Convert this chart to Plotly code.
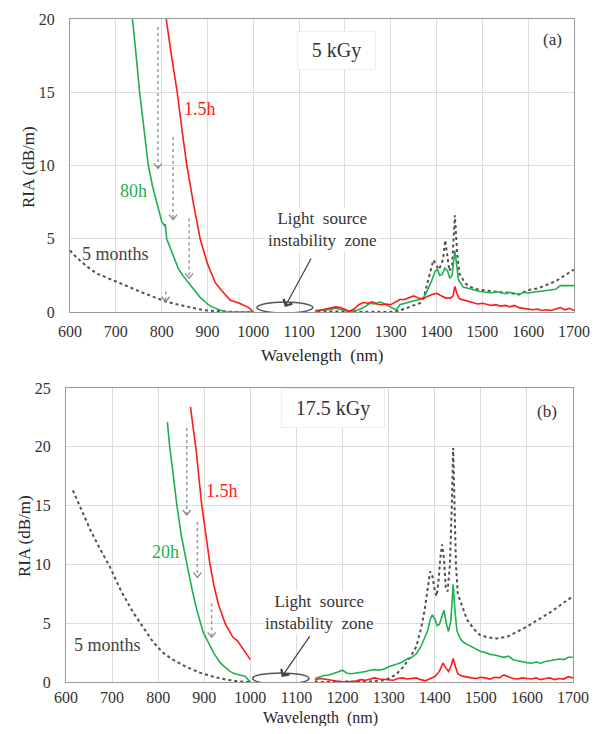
import plotly.graph_objects as go

# ---------------- Panel (a) : 5 kGy ----------------
a_red_x = [805, 810, 820, 834, 845, 855, 870, 884, 900, 917, 930, 950, 970, 990, 1000, None,
           1135, 1150, 1165, 1180, 1190, 1200, 1210, 1220, 1230, 1240, 1250, 1260, 1270, 1280, 1290,
           1300, 1310, 1320, 1330, 1340, 1350, 1360, 1370, 1380, 1390, 1400, 1410, 1420, 1430, 1436,
           1440, 1445, 1450, 1460, 1470, 1480, 1490, 1500, 1510, 1520, 1530, 1540, 1550, 1560, 1570,
           1580, 1590, 1600, 1610, 1620, 1630, 1640, 1650, 1660, 1670, 1680, 1690, 1700]
a_red_y = [22, 20, 17.8, 15, 12.3, 10, 7.3, 5, 3.3, 2, 1.5, 0.8, 0.6, 0.3, 0.0, None,
           0.05, 0.15, 0.25, 0.35, 0.3, 0.15, 0.05, 0.2, 0.5, 0.65, 0.6, 0.7, 0.55, 0.5, 0.55,
           0.5, 0.7, 0.85, 0.85, 1.0, 1.1, 0.95, 0.9, 1.05, 1.2, 1.27, 1.1, 0.95, 0.95, 1.1,
           1.75, 1.2, 0.9, 0.8, 0.75, 0.6, 0.55, 0.6, 0.5, 0.45, 0.5, 0.4, 0.45, 0.35, 0.45,
           0.3, 0.25, 0.2, 0.15, 0.2, 0.1, 0.15, 0.1, 0.2, 0.3, 0.15, 0.25, 0.1]

a_green_x = [730, 737, 745, 752, 760, 771, 780, 790, 800, 806, 808, 811, 820, 830, 836, 846, 858,
             870, 884, 895, 902, 910, 920, 930, 940, 960, 980, 1000, None,
             1135, 1150, 1165, 1180, 1190, 1200, 1210, 1220, 1230, 1240, 1255, 1265, 1277, 1290,
             1298, 1312, 1320, 1330, 1342, 1355, 1364, 1372, 1378, 1389, 1397, 1402, 1407, 1413,
             1418, 1424, 1429, 1434, 1440, 1444, 1448, 1458, 1470, 1480, 1495, 1510, 1520, 1530,
             1540, 1550, 1560, 1570, 1580, 1590, 1600, 1610, 1620, 1630, 1640, 1650, 1660, 1670,
             1680, 1690, 1700]
a_green_y = [22, 20, 17.3, 15, 12.8, 10, 8.6, 7.3, 6.2, 5.9, 6.0, 5.0, 4.3, 3.5, 3.0, 2.5, 2.0,
             1.5, 1.0, 0.7, 0.5, 0.35, 0.2, 0.1, 0.02, 0.0, 0.0, 0.0, None,
             0.1, 0.1, 0.15, 0.25, 0.2, 0.1, 0.0, 0.05, 0.15, 0.3, 0.6, 0.55, 0.7, 0.5,
             0.36, 0.14, 0.5, 0.6, 0.7, 0.8, 0.85, 1.0, 1.36, 2.1, 2.8, 2.9, 2.5, 2.6,
             3.0, 2.8, 2.3, 2.5, 4.2, 3.0, 2.2, 1.7, 1.6, 1.55, 1.4, 1.35, 1.3, 1.4,
             1.3, 1.25, 1.35, 1.3, 1.2, 1.35, 1.3, 1.35, 1.4, 1.45, 1.45, 1.5, 1.55, 1.8,
             1.8, 1.75, 1.8]

a_old_x = [600, 615, 637, 660, 680, 702, 730, 760, 785, 811, 830, 855, 880, 899, 930, 960, 1000, None,
           1140, 1200, 1250, 1300, 1320, 1335, 1350, 1364, 1372, 1378, 1386, 1393, 1398, 1404, 1410,
           1414, 1419, 1424, 1428, 1434, 1440, 1445, 1450, 1458, 1465, 1475, 1488, 1500, 1520, 1540,
           1560, 1580, 1590, 1600, 1620, 1640, 1660, 1680, 1700]
a_old_y = [4.2, 3.7, 3.1, 2.6, 2.35, 2.05, 1.7, 1.3, 1.0, 0.7, 0.55, 0.35, 0.2, 0.1, 0.03, 0.0, 0.0, None,
           0.05, 0.05, 0.0, 0.0, 0.1, 0.25, 0.45, 0.6, 1.0, 1.7, 2.6, 3.55, 3.3, 2.9, 3.2,
           3.6, 4.9, 3.8, 2.8, 3.2, 6.6, 4.0, 2.6, 2.2, 1.9, 1.7, 1.55, 1.5, 1.4, 1.35,
           1.3, 1.2, 1.35, 1.5, 1.6, 1.85, 2.1, 2.5, 2.9]

# ---------------- Panel (b) : 17.5 kGy ----------------
b_red_x = [870, 875, 883, 894, 903, 912, 921, 930, 945, 955, 962, 972, 981, 990, 1000, None,
           1140, 1150, 1160, 1170, 1180, 1190, 1200, 1210, 1220, 1230, 1240, 1250, 1260, 1270, 1280,
           1290, 1300, 1310, 1320, 1330, 1340, 1350, 1360, 1370, 1380, 1390, 1400, 1410, 1418, 1424,
           1430, 1436, 1440, 1445, 1450, 1460, 1470, 1480, 1490, 1500, 1510, 1520, 1530, 1540, 1550,
           1560, 1570, 1580, 1590, 1600, 1610, 1620, 1630, 1640, 1650, 1660, 1670, 1680, 1690, 1700]
b_red_y = [23.4, 22.0, 19.5, 15.2, 12.5, 10.1, 8.2, 6.7, 5.0, 4.3, 3.8, 3.5, 3.0, 2.5, 1.9, None,
           0.15, 0.3, 0.25, 0.2, 0.1, 0.05, 0.0, 0.05, 0.0, 0.1, 0.2, 0.15, 0.25, 0.35, 0.25,
           0.2, 0.2, 0.15, 0.3, 0.35, 0.25, 0.3, 0.35, 0.2, 0.1, 0.3, 0.45, 0.9, 1.6, 1.2,
           0.9, 1.4, 2.0, 1.3, 0.7, 0.5, 0.4, 0.35, 0.3, 0.4, 0.35, 0.25, 0.4, 0.35, 0.6,
           0.45, 0.3, 0.25, 0.35, 0.3, 0.25, 0.35, 0.2, 0.3, 0.35, 0.2, 0.3, 0.25, 0.45, 0.35]

b_green_x = [820, 825, 833, 840, 850, 858, 865, 875, 884, 898, 910, 920, 930, 938, 947, 956, 966,
             977, 988, 993, 1000, None,
             1140, 1150, 1160, 1170, 1180, 1190, 1200, 1210, 1220, 1230, 1240, 1250, 1260, 1270,
             1280, 1290, 1300, 1310, 1320, 1330, 1340, 1350, 1360, 1370, 1378, 1385, 1390, 1395,
             1400, 1405, 1410, 1415, 1420, 1425, 1430, 1435, 1440, 1444, 1448, 1455, 1462, 1470,
             1480, 1490, 1500, 1510, 1520, 1530, 1540, 1550, 1560, 1570, 1580, 1590, 1600, 1610,
             1620, 1630, 1640, 1650, 1660, 1670, 1680, 1690, 1700]
b_green_y = [22.1, 20.0, 17.5, 15.2, 12.5, 10.8, 9.5, 7.6, 6.1, 4.2, 3.2, 2.5, 1.9, 1.5, 1.2, 0.9, 0.7,
             0.6, 0.5, 0.3, 0.0, None,
             0.3, 0.45, 0.55, 0.6, 0.7, 0.85, 1.0, 0.75, 0.7, 0.75, 0.85, 0.9, 1.0, 1.05,
             1.0, 1.1, 1.3, 1.4, 1.55, 1.7, 1.95, 2.1, 2.4, 3.0, 3.7, 4.4, 5.3, 5.7,
             5.4, 4.8, 4.9, 5.5, 6.1, 5.0, 4.3, 5.2, 8.3, 6.0, 4.4, 3.7, 3.4, 3.2,
             3.0, 2.8, 2.6, 2.5, 2.35, 2.3, 2.2, 2.1, 2.2, 1.9, 1.8, 1.7, 1.65, 1.6,
             1.7, 1.6, 1.75, 1.8, 1.85, 1.95, 1.9, 2.1, 2.1]

b_old_x = [615, 630, 652, 670, 695, 720, 746, 770, 789, 810, 832, 860, 890, 920, 948, 975, 1000, None,
           1140, 1200, 1260, 1290, 1300, 1315, 1330, 1345, 1360, 1370, 1378, 1385, 1390, 1395, 1400,
           1404, 1408, 1412, 1416, 1420, 1424, 1428, 1433, 1437, 1440, 1443, 1446, 1450, 1458, 1470,
           1485, 1498, 1515, 1534, 1550, 1560, 1580, 1600, 1620, 1650, 1675, 1700]
b_old_y = [16.3, 14.9, 13.0, 11.6, 9.8, 7.7, 5.9, 4.5, 3.4, 2.5, 1.9, 1.3, 0.8, 0.45, 0.2, 0.05, 0.0, None,
           0.0, 0.0, 0.05, 0.15, 0.3, 0.6, 1.2, 2.0, 3.0, 4.5, 6.1, 8.0, 9.4, 9.0, 7.8,
           7.3, 8.5, 10.5, 11.7, 10.5, 8.0, 7.7, 10.0, 15.0, 19.9, 15.0, 10.0, 7.5, 6.6, 5.3,
           4.5, 4.0, 3.8, 3.7, 3.8, 3.9, 4.3, 4.7, 5.2, 5.9, 6.6, 7.3]

# decay arrows: (wavelength, y start, y end)
a_arrows = [(792, 19.45, 9.8), (825, 11.95, 6.3), (860, 6.4, 2.3), (809, 1.4, 0.7)]
b_arrows = [(862, 21.6, 14.2), (885, 13.6, 8.9), (916, 6.7, 3.8)]

RED = "#ff1a1a"
GREEN = "#1fb04f"
GREY = "#505050"
FONT = "'Liberation Serif', 'Times New Roman', 'DejaVu Serif', serif"

# page body has an 8px default margin: size the figure so the page is exactly 600x734
PAGE_W, PAGE_H, OFF = 600, 734, 8
W, H = PAGE_W - 2 * OFF, PAGE_H - 2 * OFF


def xp(px):
    return (px - OFF) / W


def yp(py):
    return 1 - (py - OFF) / H


fig = go.Figure()


def add_panel(xs_ys, xa, ya):
    (rx, ry), (gx, gy), (ox, oy) = xs_ys
    fig.add_trace(go.Scatter(x=ox, y=oy, mode="lines", xaxis=xa, yaxis=ya,
                             line=dict(color=GREY, width=2, dash="dot"), showlegend=False))
    fig.add_trace(go.Scatter(x=gx, y=gy, mode="lines", xaxis=xa, yaxis=ya,
                             line=dict(color=GREEN, width=1.6), showlegend=False))
    fig.add_trace(go.Scatter(x=rx, y=ry, mode="lines", xaxis=xa, yaxis=ya,
                             line=dict(color=RED, width=1.6), showlegend=False))


add_panel([(a_red_x, a_red_y), (a_green_x, a_green_y), (a_old_x, a_old_y)], "x", "y")
add_panel([(b_red_x, b_red_y), (b_green_x, b_green_y), (b_old_x, b_old_y)], "x2", "y2")

axis_common = dict(showgrid=True, gridcolor="#dcdcdc", gridwidth=1, zeroline=False,
                   showline=True, linecolor="#9a9a9a", linewidth=1, mirror=True,
                   ticks="", automargin=False,
                   tickfont=dict(family=FONT, size=16, color="#333333"))

fig.update_layout(
    width=W, height=H, margin=dict(l=0, r=0, t=0, b=0),
    paper_bgcolor="white", plot_bgcolor="white",
    font=dict(family=FONT, color="#333333"),
    xaxis=dict(domain=[xp(70), xp(574)], range=[600, 1700], dtick=100, anchor="y",
               ticklabelstandoff=5, **axis_common),
    yaxis=dict(domain=[yp(312), yp(19)], range=[0, 20], dtick=5, anchor="x",
               ticklabelstandoff=11, **axis_common),
    xaxis2=dict(domain=[xp(66), xp(573)], range=[600, 1700], dtick=100, anchor="y2",
                ticklabelstandoff=1, **axis_common),
    yaxis2=dict(domain=[yp(682), yp(388)], range=[0, 25], dtick=5, anchor="x2",
                ticklabelstandoff=11, **axis_common),
)

ann = []
shapes = []

# axis titles
for (px, py, fs) in [(322, 355, 17), (320, 718, 16)]:
    ann.append(dict(text="Wavelength  (nm)", x=xp(px), y=yp(py), xref="paper", yref="paper",
                    xanchor="center", yanchor="middle", showarrow=False,
                    font=dict(family=FONT, size=fs, color="#262626")))
for (px, py) in [(28, 167), (24, 536)]:
    ann.append(dict(text="RIA (dB/m)", x=xp(px), y=yp(py), xref="paper", yref="paper",
                    xanchor="center", yanchor="middle", showarrow=False, textangle=-90,
                    font=dict(family=FONT, size=17, color="#262626")))


def label(text, x, y, xr, yr, color, size=17, **kw):
    d = dict(text=text, x=x, y=y, xref=xr, yref=yr, showarrow=False,
             xanchor="center", yanchor="middle",
             font=dict(family=FONT, size=size, color=color))
    d.update(kw)
    ann.append(d)


# panel a labels
label("5 kGy", 1181, 17.85, "x", "y", "#333333", size=20, bgcolor="white",
      bordercolor="#eeeeee", borderwidth=1, width=75, height=35)
label("(a)", 1652, 18.57, "x", "y", "#333333", size=17)
label("1.5h", 884, 13.86, "x", "y", RED, size=18)
label("80h", 738, 8.26, "x", "y", GREEN, size=18)
label("5 months", 700, 3.96, "x", "y", "#444444", size=18)
label("Light  source<br>instability  zone", 1150, 5.6, "x", "y", "#333333", size=17,
      bgcolor="white")

# panel b labels
label("17.5 kGy", 1179, 23.3, "x2", "y2", "#333333", size=20, bgcolor="white",
      bordercolor="#eeeeee", borderwidth=1, width=100, height=36)
label("(b)", 1643, 22.96, "x2", "y2", "#333333", size=17)
label("1.5h", 938, 16.2, "x2", "y2", RED, size=18)
label("20h", 815, 11.05, "x2", "y2", GREEN, size=18)
label("5 months", 690, 3.15, "x2", "y2", "#444444", size=18)
label("Light  source<br>instability  zone", 1151, 5.95, "x2", "y2", "#333333", size=17,
      bgcolor="white")

# instability-zone arrows & ellipses
ann.append(dict(text="", x=1069, y=0.34, xref="x", yref="y", ax=27, ay=-50,
                showarrow=True, arrowhead=4, arrowsize=1.6, arrowwidth=1.2, arrowcolor="#404040"))
ann.append(dict(text="", x=1068, y=0.43, xref="x2", yref="y2", ax=29, ay=-42,
                showarrow=True, arrowhead=4, arrowsize=1.6, arrowwidth=1.2, arrowcolor="#404040"))
shapes.append(dict(type="circle", xref="x", yref="y", x0=1008, x1=1130, y0=-0.07, y1=0.68,
                   line=dict(color="#555555", width=1.5)))
shapes.append(dict(type="circle", xref="x2", yref="y2", x0=1005, x1=1127, y0=-0.17, y1=0.77,
                   line=dict(color="#555555", width=1.5)))

# decay arrows (dotted shafts + open heads)
for arrows, xr, yr in [(a_arrows, "x", "y"), (b_arrows, "x2", "y2")]:
    for (x, y0, y1) in arrows:
        shapes.append(dict(type="line", xref=xr, yref=yr, x0=x, x1=x, y0=y0, y1=y1,
                           line=dict(color="#9a9a9a", width=1.5, dash="dot")))
        shapes.append(dict(type="path", xref=xr, yref=yr, xsizemode="pixel", ysizemode="pixel",
                           xanchor=x, yanchor=y1, path="M-4,5L0,0L4,5",
                           line=dict(color="#8a8a8a", width=1.3)))

fig.update_layout(annotations=ann, shapes=shapes)
fig.write_html("out.html")
